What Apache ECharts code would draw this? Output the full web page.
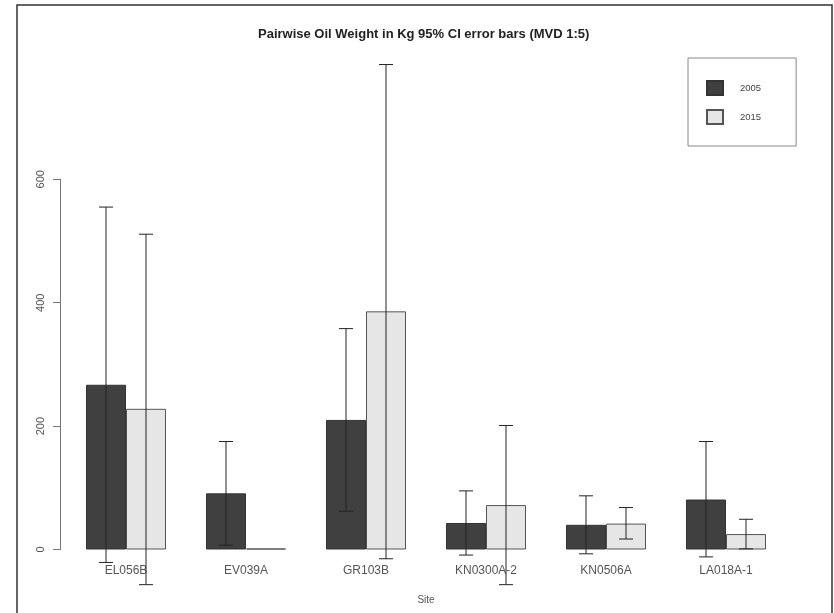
<!DOCTYPE html>
<html>
<head>
<meta charset="utf-8">
<script src="https://cdn.jsdelivr.net/npm/echarts@6/dist/echarts.min.js"></script>
<style>html,body{margin:0;padding:0;background:#fff;}#c{width:834px;height:613px;}</style>
</head>
<body>
<div id="c"></div>
<script>
const categories = ['EL056B', 'EV039A', 'GR103B', 'KN0300A-2', 'KN0506A', 'LA018A-1'];
const mean2005 = [267, 91, 210, 43, 40, 81];
const lower2005 = [-21, 7, 62, -9, -7, -12];
const upper2005 = [555, 175, 358, 95, 87, 175];
const mean2015 = [228, 0, 386, 72, 42, 25];
const lower2015 = [-57, null, -15, -57, 17, 1];
const upper2015 = [511, null, 786, 201, 68, 49];
const yTicks = [0, 200, 400, 600];

const FONT = 'Liberation Sans';
const errData = [];
categories.forEach((c, i) => {
  if (lower2005[i] != null) errData.push([i, lower2005[i], upper2005[i], -1]);
  if (lower2015[i] != null) errData.push([i, lower2015[i], upper2015[i], 1]);
});

const chart = echarts.init(document.getElementById('c'), null, {renderer: 'canvas'});
chart.setOption({
  animation: false,
  backgroundColor: '#fff',
  title: {
    text: 'Pairwise Oil Weight in Kg 95% CI error bars (MVD 1:5)',
    left: 258, top: 28, padding: 0,
    textStyle: {fontFamily: FONT, fontSize: 13, fontWeight: 'bold', color: '#222'}
  },
  legend: {
    data: ['2005', '2015'],
    orient: 'vertical',
    left: 688, top: 58,
    padding: [22, 35, 21, 18],
    itemWidth: 16, itemHeight: 14, itemGap: 13,
    borderColor: '#888', borderWidth: 1,
    icon: 'rect',
    textStyle: {fontFamily: FONT, fontSize: 9.5, color: '#444', padding: [0, 0, 0, 12]}
  },
  graphic: [{
    type: 'rect', shape: {x: 17, y: 5, width: 815, height: 620},
    style: {fill: null, stroke: '#333', lineWidth: 1.5}, z: 100
  }],
  grid: [
    {left: 66, right: 48, top: 55.9, bottom: 1.8},
    {left: 66, right: 48, top: 179.3, bottom: 63.5}
  ],
  xAxis: [
    {type: 'category', gridIndex: 0, data: categories, show: false},
    {type: 'category', gridIndex: 1, data: categories,
     axisLine: {show: false}, axisTick: {show: false},
     axisLabel: {fontFamily: FONT, fontSize: 12, color: '#555', margin: 15, interval: 0},
     name: 'Site', nameLocation: 'middle', nameGap: 46,
     nameTextStyle: {fontFamily: FONT, fontSize: 10, color: '#555'}}
  ],
  yAxis: [
    {type: 'value', gridIndex: 0, min: -100, max: 800, interval: 100, show: false},
    {type: 'value', gridIndex: 1, min: 0, max: 600, interval: 200, offset: 6,
     splitLine: {show: false},
     axisLine: {show: true, lineStyle: {color: '#777', width: 1}},
     axisTick: {show: true, length: 7, lineStyle: {color: '#777'}, customValues: yTicks},
     axisLabel: {rotate: 90, margin: 14, fontFamily: FONT, fontSize: 11, color: '#555', customValues: yTicks}}
  ],
  series: [
    {name: '2005', type: 'bar', xAxisIndex: 0, yAxisIndex: 0, data: mean2005,
     barGap: '0%', barCategoryGap: '33.333%',
     itemStyle: {color: '#404040', borderColor: '#333', borderWidth: 1}},
    {name: '2015', type: 'bar', xAxisIndex: 0, yAxisIndex: 0, data: mean2015,
     barGap: '0%', barCategoryGap: '33.333%', barMinHeight: 1,
     itemStyle: {color: '#e6e6e6', borderColor: '#555', borderWidth: 1}},
    {type: 'custom', xAxisIndex: 0, yAxisIndex: 0, data: errData, z: 10,
     encode: {x: 0, y: [1, 2]},
     renderItem: function (params, api) {
       const i = api.value(0), lo = api.value(1), hi = api.value(2), side = api.value(3);
       const band = api.size([1, 0])[0];
       const off = side * band / 6;
       const pHi = api.coord([i, hi]);
       const pLo = api.coord([i, lo]);
       const x = pHi[0] + off;
       const cap = 7;
       const st = {stroke: '#222', lineWidth: 1};
       return {type: 'group', children: [
         {type: 'line', shape: {x1: x, y1: pHi[1], x2: x, y2: pLo[1]}, style: st},
         {type: 'line', shape: {x1: x - cap, y1: pHi[1], x2: x + cap, y2: pHi[1]}, style: st},
         {type: 'line', shape: {x1: x - cap, y1: pLo[1], x2: x + cap, y2: pLo[1]}, style: st}
       ]};
     }}
  ]
});
</script>
</body>
</html>
